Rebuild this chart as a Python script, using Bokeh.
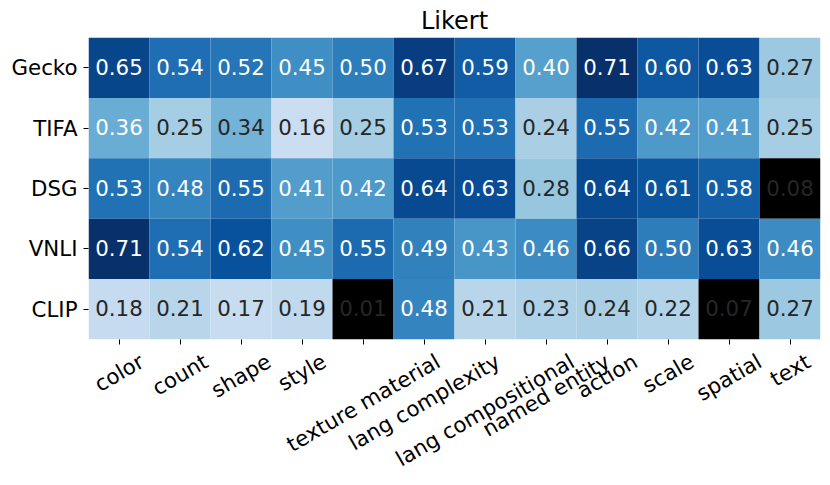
import math
import numpy as np
from bokeh.plotting import figure
from bokeh.models import (ColumnDataSource, FactorRange, Range1d, LinearAxis,
                          FixedTicker)
from bokeh.core.properties import value
from bokeh.palettes import Blues9
from bokeh.embed import file_html
from bokeh.resources import INLINE

# ---------------- data ----------------
title_text = "Likert"
models = ["Gecko", "TIFA", "DSG", "VNLI", "CLIP"]
skills = ["color", "count", "shape", "style", "texture material",
          "lang complexity", "lang compositional", "named entity",
          "action", "scale", "spatial", "text"]
gecko = [0.65, 0.54, 0.52, 0.45, 0.50, 0.67, 0.59, 0.40, 0.71, 0.60, 0.63, 0.27]
tifa  = [0.36, 0.25, 0.34, 0.16, 0.25, 0.53, 0.53, 0.24, 0.55, 0.42, 0.41, 0.25]
dsg   = [0.53, 0.48, 0.55, 0.41, 0.42, 0.64, 0.63, 0.28, 0.64, 0.61, 0.58, 0.08]
vnli  = [0.71, 0.54, 0.62, 0.45, 0.55, 0.49, 0.43, 0.46, 0.66, 0.50, 0.63, 0.46]
clip  = [0.18, 0.21, 0.17, 0.19, 0.01, 0.48, 0.21, 0.23, 0.24, 0.22, 0.07, 0.27]
rows_values = [gecko, tifa, dsg, vnli, clip]
vmin, vmax = 0.0, 0.71
mask_below = 0.1   # cells below this are shown in black

# ---------------- colour mapping (matplotlib "Blues") ----------------
blues = list(reversed(Blues9))  # light -> dark
blues_rgb = np.array([[int(c[i:i + 2], 16) / 255 for i in (1, 3, 5)] for c in blues])
anchor = np.linspace(0, 1, len(blues))


def blues_color(v):
    t = (v - vmin) / (vmax - vmin)
    idx = min(max(int(t * 256), 0), 255)
    t = idx / 255
    return [np.interp(t, anchor, blues_rgb[:, k]) for k in range(3)]


def luminance(rgb):
    rgb = np.array(rgb)
    rgb = np.where(rgb <= .03928, rgb / 12.92, ((rgb + .055) / 1.055) ** 2.4)
    return float(rgb.dot([.2126, .7152, .0722]))


# column i of the heatmap is centred on i + 0.5
centres = [i + 0.5 for i in range(len(skills))]

xs, ys, fills, labels, tcols, names = [], [], [], [], [], []
for m, vals in zip(models, rows_values):
    for c, s, v in zip(centres, skills, vals):
        xs.append(c)
        names.append(s)
        ys.append(m)
        labels.append(f"{v:.2f}")
        if v < mask_below:
            fills.append("#000000")
            tcols.append("#262626")
        else:
            rgb = blues_color(v)
            fills.append("#%02x%02x%02x" % tuple(int(round(ch * 255)) for ch in rgb))
            tcols.append("#262626" if luminance(rgb) > 0.408 else "#ffffff")

src = ColumnDataSource(dict(x=xs, y=ys, skill=names, fill=fills, label=labels, tcol=tcols))

FONT = "DejaVu Sans"
FS = 21.33
W, H_FIG = 830, 485
LEFT, RIGHT, TOP, BOTTOM = 88, 10, 37, 143
col_px = (W - LEFT - RIGHT) / len(skills)

p = figure(width=W, height=H_FIG,
           x_range=Range1d(0, len(skills)),
           y_range=FactorRange(*reversed(models)),
           x_axis_type=None,
           output_backend="svg", toolbar_location=None,
           min_border_left=LEFT, min_border_right=RIGHT,
           min_border_bottom=BOTTOM, min_border_top=TOP,
           title=title_text)
p.title.text_font = FONT
p.title.text_font_size = "24px"
p.title.text_font_style = "normal"
p.title.align = "center"
p.title.standoff = 6
p.title.text_color = "#000000"

p.rect(x="x", y="y", width=1, height=1, fill_color="fill", line_color=None, source=src)
p.text(x="x", y="y", text="label", text_color="tcol", text_align="center",
       text_baseline="middle", y_offset=-1,
       text_font=value(FONT), text_font_size=value(f"{FS}px"), source=src)

p.grid.visible = False
p.outline_line_color = None

p.yaxis.axis_line_color = None
p.yaxis.major_tick_in = 0
p.yaxis.major_tick_out = 5
p.yaxis.major_tick_line_color = "#000000"
p.yaxis.minor_tick_line_color = None
p.yaxis.major_label_text_font = FONT
p.yaxis.major_label_text_font_size = f"{FS}px"
p.yaxis.major_label_text_color = "#000000"
p.yaxis.major_label_standoff = 6

# x axis: visible minor ticks at the column centres, labels (matplotlib-style,
# rotated 30 deg and centred on the tick) carried by shifted, hidden major ticks.
DV = {' ': 651, 'a': 1255, 'b': 1300, 'c': 1126, 'd': 1300, 'e': 1260, 'f': 721,
      'g': 1300, 'h': 1298, 'i': 569, 'j': 569, 'k': 1186, 'l': 569, 'm': 1995,
      'n': 1298, 'o': 1253, 'p': 1300, 'q': 1300, 'r': 842, 's': 1067, 't': 803,
      'u': 1298, 'v': 1212, 'w': 1675, 'x': 1212, 'y': 1212, 'z': 1075}
ang = math.radians(30)
label_pos, overrides = [], {}
for c, s in zip(centres, skills):
    w = sum(DV.get(ch, 1200) for ch in s) / 2048 * FS
    pos = round(c + (w / 2 * math.cos(ang)) / col_px, 4)
    label_pos.append(pos)
    overrides[pos] = s

xax = LinearAxis(ticker=FixedTicker(ticks=label_pos, minor_ticks=centres))
xax.axis_line_color = None
xax.major_tick_line_color = None
xax.major_tick_in = 0
xax.major_tick_out = 0
xax.minor_tick_in = 0
xax.minor_tick_out = 5
xax.minor_tick_line_color = "#000000"
xax.minor_tick_line_width = 1
xax.major_label_overrides = overrides
xax.major_label_orientation = ang
xax.major_label_standoff = 15
xax.major_label_text_font = FONT
xax.major_label_text_font_size = f"{FS}px"
xax.major_label_text_color = "#000000"
p.add_layout(xax, "below")

open("out.html", "w").write(file_html(p, INLINE))
